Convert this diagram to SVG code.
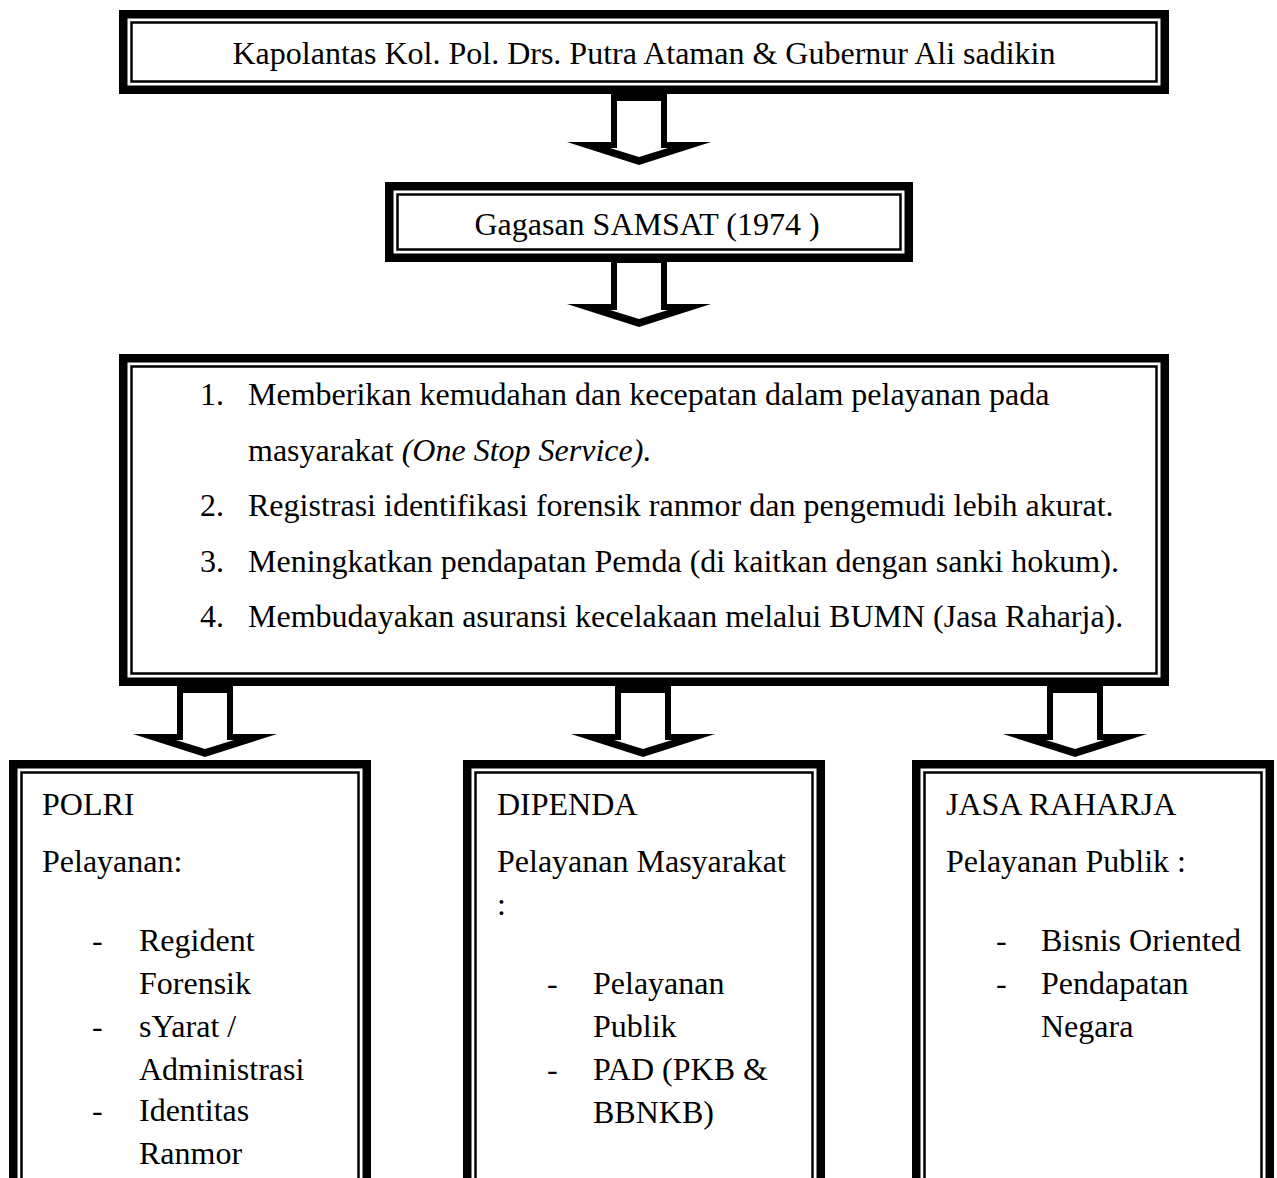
<svg xmlns="http://www.w3.org/2000/svg" xmlns:xlink="http://www.w3.org/1999/xlink" width="1277" height="1178" viewBox="0 0 1277 1178">
<style>
.outer{fill:none;stroke:#000;stroke-width:8.5}
.inner{fill:none;stroke:#000;stroke-width:2.5}
text{font-family:"Liberation Serif","Times New Roman",serif;font-size:32px;fill:#000}
.c{text-anchor:middle}
</style>
<defs>
<g id="arrow">
<polygon points="-28,0 28,0 28,48 72,48 0,71 -72,48 -28,48" fill="#000"/>
<polygon points="-22,7 22,7 22,54 29,54 0,63 -29,54 -22,54" fill="#fff"/>
</g>
</defs>
<rect width="1277" height="1178" fill="#fff"/>
<g id="connectors">
<use xlink:href="#arrow" x="639" y="94"/>
<use xlink:href="#arrow" x="639" y="256"/>
<use xlink:href="#arrow" x="205" y="686"/>
<use xlink:href="#arrow" x="643" y="686"/>
<use xlink:href="#arrow" x="1075" y="686"/>
</g>
<g id="node-kapolantas">
<rect class="outer" x="123.25" y="14.25" width="1041.5" height="75.5"/>
<rect class="inner" x="131.5" y="22.5" width="1025" height="59"/>
<text class="c" x="644" y="64">Kapolantas Kol. Pol. Drs. Putra Ataman &amp; Gubernur Ali sadikin</text>
</g>
<g id="node-gagasan">
<rect class="outer" x="389.25" y="186.25" width="519.5" height="71.5"/>
<rect class="inner" x="397.5" y="194.5" width="503" height="55"/>
<text class="c" x="647" y="235">Gagasan SAMSAT (1974 )</text>
</g>
<g id="node-tujuan">
<rect class="outer" x="123.25" y="358.25" width="1041.5" height="323.5"/>
<rect class="inner" x="131.5" y="366.5" width="1025" height="307"/>
<text x="200" y="405">1.</text>
<text x="248" y="405">Memberikan kemudahan dan kecepatan dalam pelayanan pada</text>
<text x="248" y="461">masyarakat <tspan font-style="italic">(One Stop Service).</tspan></text>
<text x="200" y="516">2.</text>
<text x="248" y="516">Registrasi identifikasi forensik ranmor dan pengemudi lebih akurat.</text>
<text x="200" y="572">3.</text>
<text x="248" y="572">Meningkatkan pendapatan Pemda (di kaitkan dengan sanki hokum).</text>
<text x="200" y="627">4.</text>
<text x="248" y="627">Membudayakan asuransi kecelakaan melalui BUMN (Jasa Raharja).</text>
</g>
<g id="node-polri">
<rect class="outer" x="13.25" y="764.25" width="353.5" height="440"/>
<rect class="inner" x="21.5" y="772.5" width="337" height="440"/>
<text x="42" y="815">POLRI</text>
<text x="42" y="872">Pelayanan:</text>
<text x="92" y="951">-</text>
<text x="139" y="951">Regident</text>
<text x="139" y="994">Forensik</text>
<text x="92" y="1037">-</text>
<text x="139" y="1037">sYarat /</text>
<text x="139" y="1080">Administrasi</text>
<text x="92" y="1121">-</text>
<text x="139" y="1121">Identitas</text>
<text x="139" y="1164">Ranmor</text>
</g>
<g id="node-dipenda">
<rect class="outer" x="467.25" y="764.25" width="353.5" height="440"/>
<rect class="inner" x="475.5" y="772.5" width="337" height="440"/>
<text x="497" y="815">DIPENDA</text>
<text x="497" y="872">Pelayanan Masyarakat</text>
<text x="497" y="915">:</text>
<text x="547" y="994">-</text>
<text x="593" y="994">Pelayanan</text>
<text x="593" y="1037">Publik</text>
<text x="547" y="1080">-</text>
<text x="593" y="1080">PAD (PKB &amp;</text>
<text x="593" y="1123">BBNKB)</text>
</g>
<g id="node-jasaraharja">
<rect class="outer" x="916.25" y="764.25" width="353.5" height="440"/>
<rect class="inner" x="924.5" y="772.5" width="337" height="440"/>
<text x="946" y="815">JASA RAHARJA</text>
<text x="946" y="872">Pelayanan Publik :</text>
<text x="996" y="951">-</text>
<text x="1041" y="951">Bisnis Oriented</text>
<text x="996" y="994">-</text>
<text x="1041" y="994">Pendapatan</text>
<text x="1041" y="1037">Negara</text>
</g>
</svg>
